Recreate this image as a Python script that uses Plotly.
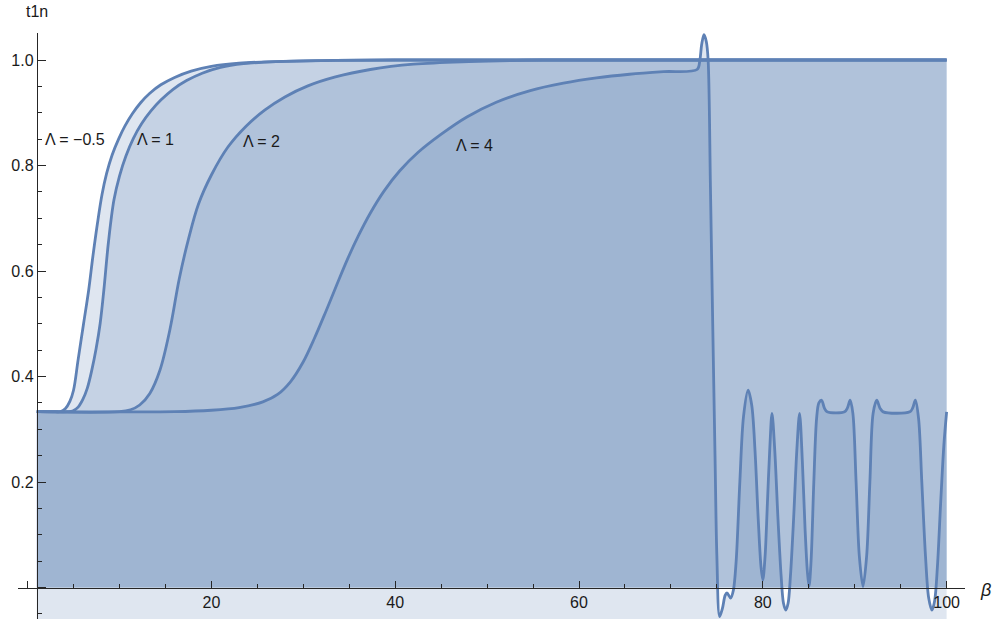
import plotly.graph_objects as go

# ---- data: t1n versus beta for four values of Lambda ----
beta_m05 = [1, 3.0, 3.6, 4.1, 4.6, 5.0, 5.5, 6.1, 6.65, 7.1, 7.6, 8.1, 8.6, 9.2, 9.9, 10.6,
            11.4, 12.3, 13.3, 14.5, 16.0, 17.8, 20, 23, 27, 32, 40, 100]
t1n_m05 = [0.3333, 0.3333, 0.3336, 0.339, 0.353, 0.374, 0.432, 0.501, 0.564, 0.627, 0.690,
           0.745, 0.785, 0.820, 0.850, 0.875, 0.898, 0.919, 0.937, 0.953, 0.967, 0.979,
           0.988, 0.994, 0.997, 0.999, 1.0, 1.0]

beta_1 = [1, 4.3, 4.9, 5.5, 6.0, 6.5, 7.0, 7.45, 7.9, 8.3, 8.8, 9.4, 10.0, 10.7, 11.5, 12.4,
          13.4, 14.5, 15.8, 17.3, 19.0, 21, 23.5, 27, 32, 40, 100]
t1n_1 = [0.3333, 0.3333, 0.3345, 0.342, 0.356, 0.378, 0.413, 0.452, 0.501, 0.564, 0.655,
         0.735, 0.780, 0.818, 0.851, 0.879, 0.903, 0.924, 0.944, 0.961, 0.975, 0.986, 0.993,
         0.997, 0.999, 1.0, 1.0]

beta_2 = [1, 10.0, 11.2, 12.2, 13.3, 14.4, 15.5, 16.5, 17.5, 18.6, 20.0, 21.8, 23.8, 25.8,
          28.0, 30.5, 33.5, 37.3, 42, 48, 56, 100]
t1n_2 = [0.3333, 0.3334, 0.337, 0.346, 0.368, 0.412, 0.490, 0.585, 0.660, 0.727, 0.782,
         0.835, 0.875, 0.905, 0.930, 0.951, 0.968, 0.982, 0.992, 0.997, 1.0, 1.0]

beta_4 = [1, 16, 20, 23, 25.6, 27.2, 28.6, 30.0, 31.2, 32.4, 33.6, 34.8, 36.0, 37.3, 38.8,
          40.5, 42.5, 44.9, 47.8, 51.0, 54.7, 58.3, 61.9, 65.5, 69.2, 72.85, 73.15, 73.35,
          73.6, 73.85, 74.05, 74.3, 74.55, 74.8, 75.0, 75.3, 75.6, 75.9, 76.1, 76.5, 76.8,
          77.1, 77.5, 77.9, 78.4, 78.8, 79.15, 79.5, 79.8, 80.0, 80.25, 80.5, 80.75, 81.0,
          81.3, 81.65, 82.0, 82.25, 82.5, 82.75, 83.0, 83.35, 83.7, 84.0, 84.3, 84.6, 84.85,
          85.03, 85.25, 85.55, 85.85, 86.1, 86.4, 86.7, 87.0, 88.9, 89.2, 89.5, 89.8, 90.15,
          90.5, 90.9, 91.3, 91.65, 92.0, 92.4, 92.75, 93.1, 96.0, 96.3, 96.6, 96.95, 97.3,
          97.7, 98.05, 98.4, 98.7, 99.0, 99.35, 99.7, 100]
t1n_4 = [0.3333, 0.3334, 0.336, 0.341, 0.352, 0.366, 0.390, 0.428, 0.472, 0.521, 0.572,
         0.622, 0.667, 0.710, 0.752, 0.790, 0.825, 0.858, 0.892, 0.920, 0.942, 0.956, 0.966,
         0.973, 0.978, 0.982, 1.0, 1.03, 1.048, 1.035, 1.0, 0.76, 0.50, 0.25, 0.06, -0.055,
         -0.04, -0.015, -0.01, -0.02, -0.005, 0.05, 0.2, 0.324, 0.374, 0.345, 0.26, 0.13,
         0.04, 0.014, 0.06, 0.16, 0.26, 0.33, 0.26, 0.13, 0.02, -0.03, -0.043, -0.03, 0.02,
         0.13, 0.26, 0.33, 0.24, 0.11, 0.03, 0.002, 0.05, 0.2, 0.32, 0.35, 0.355, 0.34,
         0.333, 0.333, 0.34, 0.355, 0.33, 0.2, 0.06, 0.002, 0.06, 0.2, 0.33, 0.355, 0.34,
         0.333, 0.333, 0.34, 0.355, 0.32, 0.2, 0.06, -0.02, -0.043, -0.025, 0.04, 0.16, 0.27,
         0.333]

labels = ["\u039b = \u22120.5", "\u039b = 1", "\u039b = 2", "\u039b = 4"]
label_beta = [5.2, 13.9, 25.4, 48.6]
label_t1n = [0.850, 0.850, 0.845, 0.837]

x_tickvals = [0, 20, 40, 60, 80, 100]
x_ticktext = ["", "20", "40", "60", "80", "100"]
y_tickvals = [0, 0.2, 0.4, 0.6, 0.8, 1.0]
y_ticktext = ["", "0.2", "0.4", "0.6", "0.8", "1.0"]

# ---- style ----
W, H = 993, 619
LINE = "#5E81B5"
FILL = "rgba(94,129,181,0.2)"
AXIS = "#262626"
TEXT = "#1a1a1a"
FONT = "Liberation Sans, Arial, sans-serif"
Y_FLOOR = -0.08          # the Lambda = 4 curve is shaded down to the frame bottom

# axis ranges and domains (paper fractions)
x_range = [-1.01, 102.0]
y_range = [-0.0597, 1.0512]
x_dom = [18.3 / W, 965.0 / W]
y_dom = [0.0, (H - 33.0) / H]
# axes cross at beta = 1, t1n = 0
x_axis_pos = y_dom[0] + (0 - y_range[0]) / (y_range[1] - y_range[0]) * (y_dom[1] - y_dom[0])
y_axis_pos = x_dom[0] + (1 - x_range[0]) / (x_range[1] - x_range[0]) * (x_dom[1] - x_dom[0])

series = [(beta_m05, t1n_m05, 1.0), (beta_1, t1n_1, 1.0), (beta_2, t1n_2, 1.0),
          (beta_4, t1n_4, 0.9)]

fig = go.Figure()

# filled areas first (lines go on top afterwards)
fig.add_trace(go.Scatter(x=[1, 100], y=[Y_FLOOR, Y_FLOOR], mode="lines",
                         line=dict(width=0), hoverinfo="skip", showlegend=False))
fig.add_trace(go.Scatter(x=beta_4, y=t1n_4, mode="lines", fill="tonexty", fillcolor=FILL,
                         line=dict(width=0, shape="spline", smoothing=series[3][2]),
                         hoverinfo="skip", showlegend=False))
for bx, ty, sm in series[2::-1]:
    fig.add_trace(go.Scatter(x=bx, y=ty, mode="lines", fill="tozeroy", fillcolor=FILL,
                             line=dict(width=0, shape="spline", smoothing=sm),
                             hoverinfo="skip", showlegend=False))

for (bx, ty, sm), name in zip(series, labels):
    fig.add_trace(go.Scatter(x=bx, y=ty, mode="lines", name=name,
                             line=dict(color=LINE, width=2.8, shape="spline", smoothing=sm),
                             showlegend=False))

annotations = []
for txt, bx, ty in zip(labels, label_beta, label_t1n):
    annotations.append(dict(x=bx, y=ty, xref="x", yref="y", text=txt, showarrow=False,
                            xanchor="center", yanchor="middle",
                            font=dict(family=FONT, size=16, color=TEXT)))
annotations.append(dict(x=37.0 / W, y=(H - 12.0) / H, xref="paper", yref="paper", text="t1n",
                        showarrow=False, xanchor="center", yanchor="middle",
                        font=dict(family=FONT, size=16, color=TEXT)))
annotations.append(dict(x=985.0 / W, y=(H - 590.0) / H, xref="paper", yref="paper",
                        text="<i>\u03b2</i>", showarrow=False, xanchor="center", yanchor="middle",
                        font=dict(family=FONT, size=18, color=TEXT)))

fig.update_layout(
    width=W, height=H, autosize=False,
    margin=dict(l=0, r=0, t=0, b=0),
    paper_bgcolor="white", plot_bgcolor="rgba(0,0,0,0)",
    showlegend=False,
    annotations=annotations,
    xaxis=dict(domain=x_dom, range=x_range, anchor="free", position=x_axis_pos,
               showline=True, linecolor=AXIS, linewidth=1, showgrid=False, zeroline=False,
               ticks="inside", ticklen=7, tickwidth=1, tickcolor=AXIS,
               tickmode="array", tickvals=x_tickvals, ticktext=x_ticktext,
               tickfont=dict(family=FONT, size=16, color=TEXT),
               minor=dict(ticks="inside", ticklen=4, tickwidth=1, tickcolor=AXIS,
                          tickmode="linear", tick0=0, dtick=5, showgrid=False)),
    yaxis=dict(domain=y_dom, range=y_range, anchor="free", position=y_axis_pos,
               showline=True, linecolor=AXIS, linewidth=1, showgrid=False, zeroline=False,
               ticks="inside", ticklen=8, tickwidth=1, tickcolor=AXIS,
               tickmode="array", tickvals=y_tickvals, ticktext=y_ticktext,
               tickfont=dict(family=FONT, size=16, color=TEXT),
               minor=dict(ticks="inside", ticklen=4, tickwidth=1, tickcolor=AXIS,
                          tickmode="linear", tick0=0, dtick=0.05, showgrid=False)),
)

fig.write_html("out.html")
